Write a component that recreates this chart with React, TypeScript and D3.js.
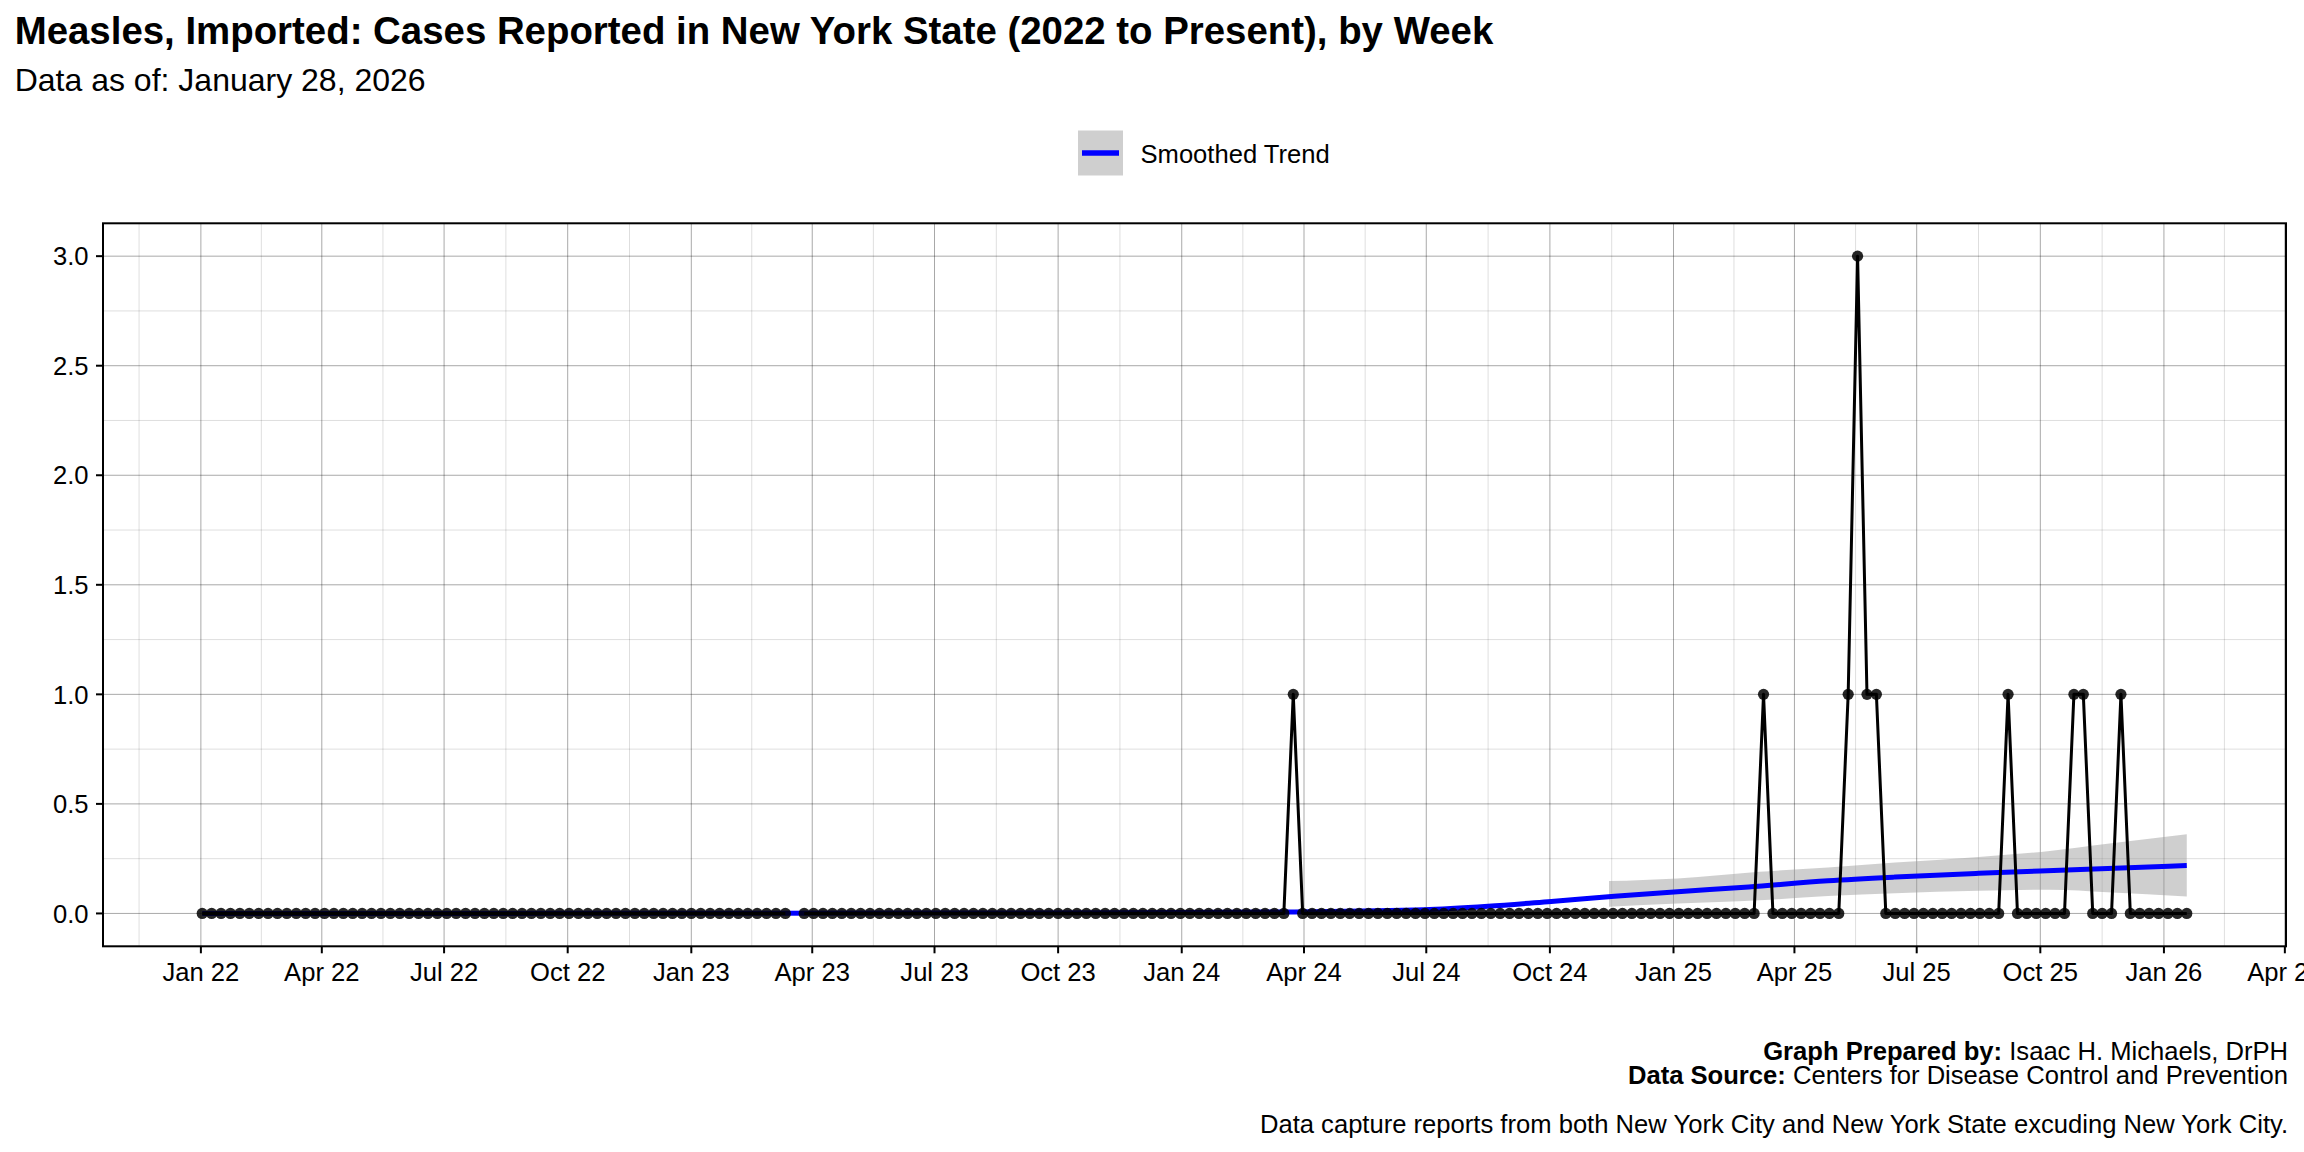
import React from "react";
import * as d3 from "d3";

// ---------------- DATA ----------------
const firstWeek = "2022-01-02"; // weekly (Sunday) series start
const cases2022 = [
  0, 0, 0, 0, 0, 0, 0, 0, 0, 0, 0, 0, 0, 0, 0, 0, 0, 0, 0, 0, 0, 0, 0, 0, 0, 0,
  0, 0, 0, 0, 0, 0, 0, 0, 0, 0, 0, 0, 0, 0, 0, 0, 0, 0, 0, 0, 0, 0, 0, 0, 0, 0,
];
const cases2023: (number | null)[] = [
  0, 0, 0, 0, 0, 0, 0, 0, 0, 0, 0, null, 0, 0, 0, 0, 0, 0, 0, 0, 0, 0, 0, 0, 0, 0,
  0, 0, 0, 0, 0, 0, 0, 0, 0, 0, 0, 0, 0, 0, 0, 0, 0, 0, 0, 0, 0, 0, 0, 0, 0, 0, 0,
];
const cases2024 = [
  0, 0, 0, 0, 0, 0, 0, 0, 0, 0, 0, 1, 0, 0, 0, 0, 0, 0, 0, 0, 0, 0, 0, 0, 0, 0,
  0, 0, 0, 0, 0, 0, 0, 0, 0, 0, 0, 0, 0, 0, 0, 0, 0, 0, 0, 0, 0, 0, 0, 0, 0, 0,
];
const cases2025 = [
  0, 0, 0, 0, 0, 0, 0, 0, 0, 1, 0, 0, 0, 0, 0, 0, 0, 0, 1, 3, 1, 1, 0, 0, 0, 0,
  0, 0, 0, 0, 0, 0, 0, 0, 0, 1, 0, 0, 0, 0, 0, 0, 1, 1, 0, 0, 0, 1, 0, 0, 0, 0,
];
const cases2026 = [0, 0, 0];

const trendDates = [
  "2022-01-02", "2022-07-01", "2023-01-01", "2023-07-01", "2024-01-01", "2024-03-22",
  "2024-06-29", "2024-08-16", "2024-10-02", "2024-11-18", "2025-01-04", "2025-02-26",
  "2025-04-26", "2025-06-15", "2025-08-16", "2025-10-01", "2025-11-15", "2026-01-18",
];
const trendValues = [
  0.0, 0.0, 0.001, 0.002, 0.004, 0.007, 0.017, 0.033, 0.055, 0.078, 0.099, 0.121,
  0.149, 0.166, 0.183, 0.194, 0.204, 0.219,
];

const bandDates = [
  "2024-11-14", "2025-01-04", "2025-03-06", "2025-04-26", "2025-06-15", "2025-08-16",
  "2025-10-08", "2025-11-20", "2026-01-18",
];
const bandLower = [0.03, 0.045, 0.06, 0.08, 0.092, 0.103, 0.108, 0.097, 0.077];
const bandUpper = [0.148, 0.16, 0.19, 0.21, 0.232, 0.258, 0.285, 0.318, 0.361];

const yTicks = [0, 0.5, 1, 1.5, 2, 2.5, 3];
const yMinor = [0.25, 0.75, 1.25, 1.75, 2.25, 2.75];
const yLimits = [0, 3];

const titleText =
  "Measles, Imported: Cases Reported in New York State (2022 to Present), by Week";
const subtitleText = "Data as of: January 28, 2026";
const legendLabel = "Smoothed Trend";
const captionBold1 = "Graph Prepared by:";
const captionText1 = " Isaac H. Michaels, DrPH";
const captionBold2 = "Data Source:";
const captionText2 = " Centers for Disease Control and Prevention";
const captionText3 =
  "Data capture reports from both New York City and New York State excuding New York City.";

// ---------------- LAYOUT ----------------
const W = 2304;
const H = 1152;
const P = { left: 103, right: 2286, top: 223.3, bottom: 946.3 };
const FONT = "'Liberation Sans', Arial, Helvetica, sans-serif";
const BLUE = "#0000ff";

export default function App() {
  const parse = d3.utcParse("%Y-%m-%d");
  const start = parse(firstWeek) as Date;
  const allCases = [...cases2022, ...cases2023, ...cases2024, ...cases2025, ...cases2026];
  const series = allCases.map((v, i) => ({ date: d3.utcDay.offset(start, 7 * i), v }));

  const first = series[0].date.getTime();
  const last = series[series.length - 1].date.getTime();
  const span = last - first;
  const x = d3
    .scaleUtc()
    .domain([new Date(first - 0.05 * span), new Date(last + 0.05 * span)])
    .range([P.left, P.right]);
  const ySpan = yLimits[1] - yLimits[0];
  const y = d3
    .scaleLinear()
    .domain([yLimits[0] - 0.05 * ySpan, yLimits[1] + 0.05 * ySpan])
    .range([P.bottom, P.top]);

  const [d0, d1] = x.domain();
  const majors = d3.utcMonth.every(3)!.range(d0, new Date(d1.getTime() + 1));
  const minors: Date[] = [];
  const prevMajor = d3.utcMonth.offset(majors[0], -3);
  const allMaj = [prevMajor, ...majors, d3.utcMonth.offset(majors[majors.length - 1], 3)];
  for (let i = 0; i < allMaj.length - 1; i++) {
    const m = new Date((allMaj[i].getTime() + allMaj[i + 1].getTime()) / 2);
    if (m >= d0 && m <= d1) minors.push(m);
  }
  const fmt = d3.utcFormat("%b %y");

  const caseLine = d3
    .line<{ date: Date; v: number | null }>()
    .defined((d) => d.v != null)
    .x((d) => x(d.date))
    .y((d) => y(d.v as number));

  const trend = trendDates.map((d, i) => ({ date: parse(d) as Date, v: trendValues[i] }));
  const trendLine = d3
    .line<{ date: Date; v: number }>()
    .curve(d3.curveMonotoneX)
    .x((d) => x(d.date))
    .y((d) => y(d.v));

  const band = bandDates.map((d, i) => ({
    date: parse(d) as Date,
    lo: bandLower[i],
    hi: bandUpper[i],
  }));
  const bandArea = d3
    .area<{ date: Date; lo: number; hi: number }>()
    .curve(d3.curveMonotoneX)
    .x((d) => x(d.date))
    .y0((d) => y(d.lo))
    .y1((d) => y(d.hi));

  return (
    <svg
      width={W}
      height={H}
      viewBox={`0 0 ${W} ${H}`}
      style={{ position: "absolute", left: 0, top: 0, background: "#fff" }}
      fontFamily={FONT}
    >
      <rect x={0} y={0} width={W} height={H} fill="#fff" />
      <defs>
        <clipPath id="panel">
          <rect x={P.left} y={P.top} width={P.right - P.left} height={P.bottom - P.top} />
        </clipPath>
      </defs>

      {/* grid */}
      <g clipPath="url(#panel)">
        {minors.map((d, i) => (
          <line key={"xm" + i} x1={x(d)} x2={x(d)} y1={P.top} y2={P.bottom} stroke="#000" strokeOpacity={0.13} strokeWidth={1} />
        ))}
        {yMinor.map((v, i) => (
          <line key={"ym" + i} x1={P.left} x2={P.right} y1={y(v)} y2={y(v)} stroke="#000" strokeOpacity={0.13} strokeWidth={1} />
        ))}
        {majors.map((d, i) => (
          <line key={"xM" + i} x1={x(d)} x2={x(d)} y1={P.top} y2={P.bottom} stroke="#000" strokeOpacity={0.34} strokeWidth={1} />
        ))}
        {yTicks.map((v, i) => (
          <line key={"yM" + i} x1={P.left} x2={P.right} y1={y(v)} y2={y(v)} stroke="#000" strokeOpacity={0.34} strokeWidth={1} />
        ))}

        {/* smoothed trend */}
        <path d={bandArea(band) || ""} fill="#999999" fillOpacity={0.47} />
        <path d={trendLine(trend) || ""} fill="none" stroke={BLUE} strokeWidth={5} />

        {/* cases */}
        <path d={caseLine(series) || ""} fill="none" stroke="#000" strokeWidth={3} strokeLinejoin="round" />
        {series
          .filter((d) => d.v != null)
          .map((d, i) => (
            <circle key={"p" + i} cx={x(d.date)} cy={y(d.v as number)} r={5.6} fill="#000" fillOpacity={0.85} />
          ))}
      </g>

      {/* panel border */}
      <rect x={P.left} y={P.top} width={P.right - P.left} height={P.bottom - P.top} fill="none" stroke="#000" strokeWidth={2} />

      {/* y axis */}
      {yTicks.map((v, i) => (
        <g key={"yt" + i}>
          <line x1={P.left - 7} x2={P.left} y1={y(v)} y2={y(v)} stroke="#000" strokeWidth={2} />
          <text x={P.left - 14.5} y={y(v)} dy="0.36em" textAnchor="end" fontSize={25.6} fill="#000">
            {v.toFixed(1)}
          </text>
        </g>
      ))}

      {/* x axis */}
      {majors.map((d, i) => (
        <g key={"xt" + i}>
          <line x1={x(d)} x2={x(d)} y1={P.bottom} y2={P.bottom + 7} stroke="#000" strokeWidth={2} />
          <text x={x(d)} y={980.5} textAnchor="middle" fontSize={25.6} fill="#000">
            {fmt(d)}
          </text>
        </g>
      ))}

      {/* title */}
      <text x={14.7} y={44} fontSize={38.4} fontWeight="bold" fill="#000">
        {titleText}
      </text>
      <text x={14.7} y={91} fontSize={32} fill="#000">
        {subtitleText}
      </text>

      {/* legend */}
      <rect x={1078} y={130.5} width={45} height={45} fill="#999999" fillOpacity={0.47} />
      <line x1={1082} x2={1119} y1={153} y2={153} stroke={BLUE} strokeWidth={5.5} />
      <text x={1140.5} y={162.5} fontSize={25.6} fill="#000">
        {legendLabel}
      </text>

      {/* caption */}
      <text x={2288} y={1059.5} textAnchor="end" fontSize={25.6} fill="#000">
        <tspan fontWeight="bold">{captionBold1}</tspan>
        <tspan>{captionText1}</tspan>
      </text>
      <text x={2288} y={1084.4} textAnchor="end" fontSize={25.6} fill="#000">
        <tspan fontWeight="bold">{captionBold2}</tspan>
        <tspan>{captionText2}</tspan>
      </text>
      <text x={2288} y={1133} textAnchor="end" fontSize={25.6} fill="#000">
        {captionText3}
      </text>
    </svg>
  );
}
